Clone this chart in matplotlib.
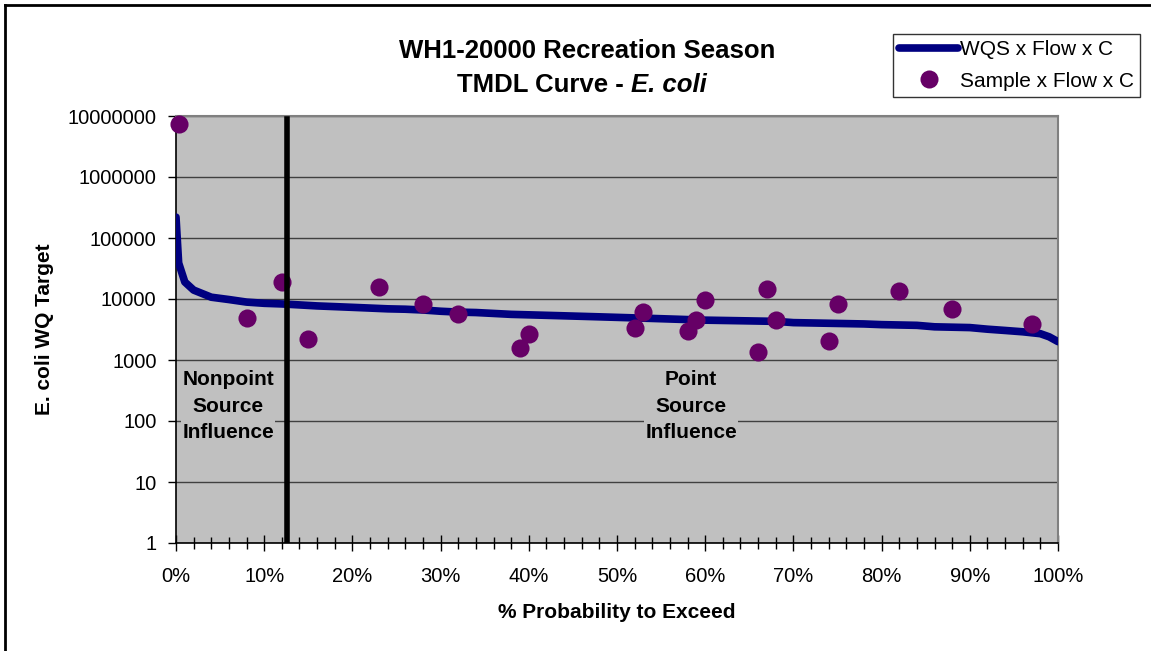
import numpy as np
import matplotlib
matplotlib.use("Agg")
import matplotlib.pyplot as plt
from matplotlib.lines import Line2D
from matplotlib.ticker import FixedLocator, FuncFormatter, MultipleLocator

plt.rcParams['font.family'] = ['Liberation Sans', 'DejaVu Sans']

# WQS x Flow x C curve (% exceedance, load)
curve_x = [0, 0.3, 1, 2, 4, 6, 8, 10, 12, 14, 16, 18, 20, 22, 24, 26, 28,
           30, 32, 34, 36, 38, 40, 42, 44, 46, 48, 50, 52, 54, 56, 58, 60,
           62, 64, 66, 68, 70, 72, 74, 76, 78, 80, 82, 84, 86, 88, 90, 92,
           94, 96, 98, 99, 100]
curve_y = [220000, 39000, 19000, 14000, 10700, 9800, 8900, 8500, 8300, 8000,
           7700, 7500, 7300, 7100, 6900, 6800, 6600, 6300, 6100, 6000, 5800,
           5600, 5500, 5400, 5300, 5200, 5100, 5000, 4900, 4800, 4700, 4600,
           4500, 4450, 4400, 4350, 4300, 4100, 4050, 4000, 3950, 3900, 3800,
           3750, 3700, 3500, 3450, 3400, 3200, 3050, 2900, 2700, 2400, 2000]

# Sample x Flow x C points
sample_x = [0.3, 8, 12, 15, 23, 28, 32, 39, 40, 52, 53, 58, 59, 60, 66, 67,
            68, 74, 75, 82, 88, 97]
sample_y = [7400000, 4900, 19000, 2200, 15800, 8300, 5700, 1580, 2700, 3340,
            6100, 3000, 4500, 9600, 1350, 14500, 4500, 2050, 8300, 13500,
            6900, 3900]

split_x = 12.6
y_ticks = [1, 10, 100, 1000, 10000, 100000, 1000000, 10000000]

W, H = 1151, 651
fig = plt.figure(figsize=(W / 100, H / 100), dpi=100)
ax = fig.add_axes([176 / W, 1 - 543 / H, 882 / W, 427 / H])
ax.set_facecolor('#C0C0C0')

ax.set_yscale('log')
ax.set_ylim(1, 10000000)
ax.set_xlim(0, 100)

ax.yaxis.set_major_locator(FixedLocator(y_ticks))
ax.yaxis.set_minor_locator(FixedLocator([]))
ax.yaxis.set_major_formatter(FuncFormatter(lambda v, p: '%d' % round(v)))
ax.xaxis.set_major_locator(MultipleLocator(10))
ax.xaxis.set_minor_locator(MultipleLocator(2))
ax.xaxis.set_major_formatter(FuncFormatter(lambda v, p: '%d%%' % round(v)))

ax.grid(axis='y', which='major', color='#404040', linewidth=1.0)
ax.set_axisbelow(True)

ax.tick_params(axis='y', which='major', direction='out', length=6,
               width=1, labelsize=14.5, pad=8)
ax.tick_params(axis='x', which='major', direction='inout', length=11,
               width=1, labelsize=14.5, pad=12)
ax.tick_params(axis='x', which='minor', direction='inout', length=9, width=1)

for s in ['left', 'bottom']:
    ax.spines[s].set_color('black')
    ax.spines[s].set_linewidth(1.2)
for s in ['top', 'right']:
    ax.spines[s].set_color('#808080')
    ax.spines[s].set_linewidth(1.5)

ax.plot(curve_x, curve_y, color='#000080', linewidth=5.5,
        solid_capstyle='round', solid_joinstyle='round', zorder=3)
ax.scatter(sample_x, sample_y, s=170, color='#660066', zorder=4,
           clip_on=False, linewidths=0)

ax.axvline(split_x, ymin=0, ymax=0.993, color='black', linewidth=4, zorder=5)

box = dict(facecolor='#C0C0C0', edgecolor='none', pad=1)
ax.text(5.9, 175, 'Nonpoint\nSource\nInfluence', ha='center', va='center',
        fontsize=15, fontweight='bold', linespacing=1.5, bbox=box, zorder=2)
ax.text(58.4, 175, 'Point\nSource\nInfluence', ha='center', va='center',
        fontsize=15, fontweight='bold', linespacing=1.5, bbox=box, zorder=2)

ax.set_xlabel('% Probability to Exceed', fontsize=15, fontweight='bold',
              labelpad=12)
ax.set_ylabel('E. coli WQ Target', fontsize=15, fontweight='bold',
              labelpad=10)

fig.text(587 / W, 1 - 51 / H, 'WH1-20000 Recreation Season',
         ha='center', va='center', fontsize=18.5, fontweight='bold')
t1 = fig.text(0, 1 - 85 / H, 'TMDL Curve - ', ha='left', va='center',
              fontsize=18.5, fontweight='bold')
t2 = fig.text(0, 1 - 85 / H, 'E. coli', ha='left', va='center',
              fontsize=18.5, fontweight='bold', style='italic')
fig.canvas.draw()
r = fig.canvas.get_renderer()
w1 = t1.get_window_extent(r).width
w2 = t2.get_window_extent(r).width
x0 = 582 - (w1 + w2) / 2
t1.set_x(x0 / W)
t2.set_x((x0 + w1) / W)

handles = [Line2D([], [], color='#000080', linewidth=5.5,
                  solid_capstyle='round'),
           Line2D([], [], color='#660066', marker='o', linestyle='none',
                  markersize=13, markeredgewidth=0)]
leg = fig.legend(handles, ['WQS x Flow x C', 'Sample x Flow x C'],
                 loc='upper right', bbox_to_anchor=(1140 / W, 1 - 34 / H),
                 fontsize=15, frameon=True, fancybox=False, handlelength=2.8,
                 handletextpad=0.1, borderpad=0.3, labelspacing=0.6,
                 borderaxespad=0)
leg.get_frame().set_edgecolor('black')
leg.get_frame().set_linewidth(1)

# chart border (top and left edges visible)
fig.add_artist(Line2D([5 / W, 5 / W], [0, 1 - 5 / H],
                      transform=fig.transFigure, color='black', linewidth=2))
fig.add_artist(Line2D([5 / W, 1], [1 - 5 / H, 1 - 5 / H],
                      transform=fig.transFigure, color='black', linewidth=2))

fig.savefig('out.png', dpi=100)
